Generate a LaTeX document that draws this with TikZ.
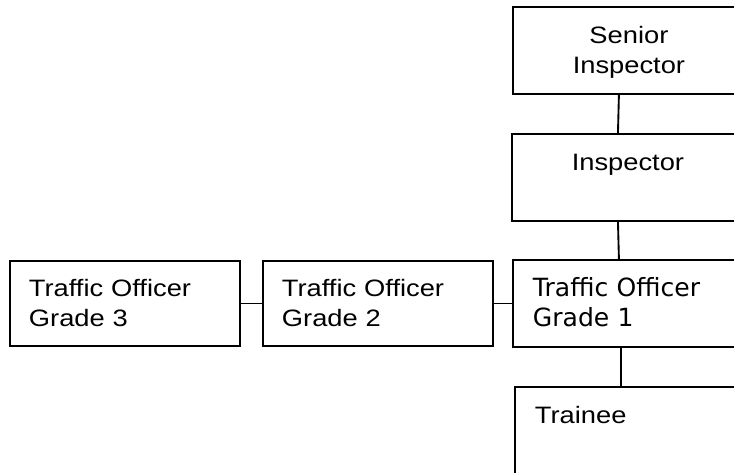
\documentclass[tikz,border=0pt]{standalone}
\usepackage{fontspec}
\usetikzlibrary{positioning,calc}
\newfontfamily\rankfont{Liberation Sans}[FakeStretch=1.15]
\newfontfamily\rankfontwide{DejaVu Sans}
\newcommand{\postfont}{\rankfont\fontsize{17.8}{22}\selectfont}
\newcommand{\postfontwide}{\rankfontwide\fontsize{18.8}{22}\selectfont}
\newcommand{\firstline}{\rule{0pt}{18.5pt}}

\begin{document}
\begin{tikzpicture}[x=0.75pt, y=-0.75pt,
    post/.style={draw, line width=1.4pt, anchor=north west,
      minimum width=172.5pt, minimum height=63.75pt,
      inner xsep=14.25pt, inner ysep=0pt, text width=144pt,
      align=left, font=\postfont},
    postc/.style={post, align=center},
    open/.style={post, draw=none},
    link/.style={line width=1.4pt}]
  \useasboundingbox (0,0) rectangle (734,472);
  \clip (0,0) rectangle (734,472);
  % --- right column (boxes run past the right edge) ---
  \node[open, align=center] (senior) at (513,7) {\firstline Senior\\\strut Inspector};
  \node[open, align=center] (insp) at (512,134) {\firstline Inspector\\\strut};
  \node[open, font=\postfontwide] (grade1) at (513,260)
    {\firstline Traffic Officer\\\strut Grade 1};
  \node[open] (trainee) at (515,387) {\firstline Trainee\\\strut};
  \foreach \n in {senior,insp,grade1,trainee}{
    \draw[link] (\n.north east) -- (\n.north west) -- (\n.south west) -- (\n.south east);
  }
  % --- bottom row, left of grade 1 ---
  \node[post] (grade3) at (9,260)   {\firstline Traffic Officer\\\strut Grade 3};
  \node[post] (grade2) at (262,260) {\firstline Traffic Officer\\\strut Grade 2};
  % --- connectors ---
  \draw[link] ([xshift=-7.5pt]senior.south) -- ([xshift=-7.5pt]insp.north);
  \draw[link] ([xshift=-7.5pt]insp.south)   -- ([xshift=-7.5pt]grade1.north);
  \draw[link] ([xshift=-6pt]grade1.south)   -- ([xshift=-7.5pt]trainee.north);
  \draw[link] (grade3.east) -- (grade2.west);
  \draw[link] (grade2.east) -- (grade1.west);
\end{tikzpicture}
\end{document}
